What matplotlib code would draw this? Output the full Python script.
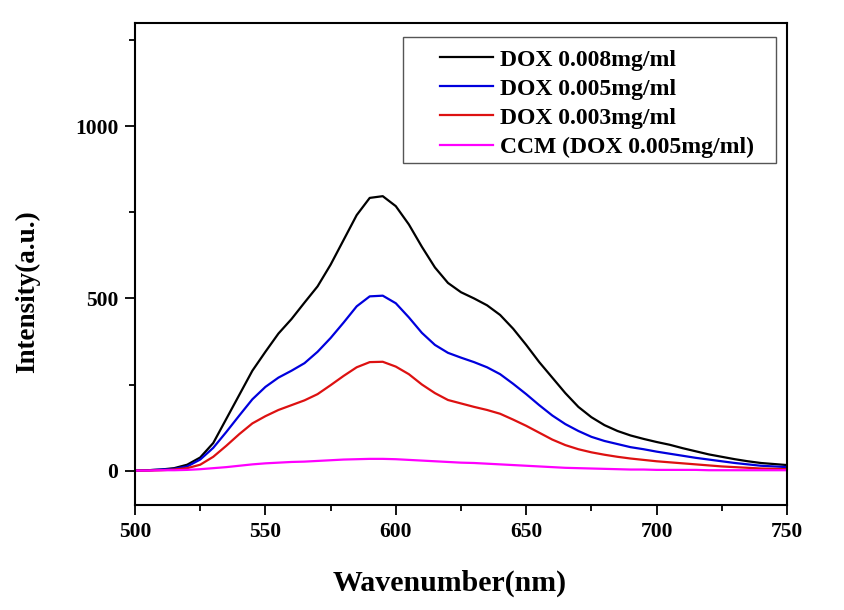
import numpy as np
import matplotlib
matplotlib.use("Agg")
import matplotlib.pyplot as plt
from matplotlib.patches import Rectangle

wavelength = np.arange(500, 755, 5)

dox_008 = [0, 1, 3, 7, 17, 38, 80, 150, 220, 290, 345, 398, 440, 488, 535, 598, 670, 742, 792, 797,
           768, 715, 650, 590, 545, 518, 500, 480, 452, 412, 365, 315, 270, 225, 185, 155, 132, 115,
           102, 92, 83, 75, 65, 56, 47, 40, 33, 27, 22, 19, 16]
dox_005 = [0, 1, 3, 5, 12, 32, 66, 112, 160, 207, 243, 270, 290, 312, 345, 385, 430, 477, 506, 508,
           486, 445, 400, 365, 342, 328, 315, 300, 280, 252, 222, 190, 160, 135, 115, 98, 86, 77,
           68, 62, 55, 49, 43, 37, 32, 27, 22, 18, 14, 12, 10]
dox_003 = [0, 0, 1, 3, 7, 17, 40, 72, 106, 137, 158, 176, 190, 204, 222, 248, 275, 300, 315, 316,
           302, 280, 250, 225, 205, 195, 185, 176, 165, 148, 130, 110, 90, 74, 62, 53, 46, 40,
           35, 31, 27, 24, 21, 18, 15, 12, 10, 8, 6, 5, 4]
ccm_005 = [0, 0, 1, 1, 2, 4, 7, 10, 14, 18, 21, 23, 25, 26, 28, 30, 32, 33, 34, 34,
           33, 31, 29, 27, 25, 23, 22, 20, 18, 16, 14, 12, 10, 8, 7, 6, 5, 4,
           3, 3, 2, 2, 2, 2, 1, 1, 1, 1, 1, 1, 1]

labels = ["DOX 0.008mg/ml", "DOX 0.005mg/ml", "DOX 0.003mg/ml", "CCM (DOX 0.005mg/ml)"]
colors = ["#000000", "#0000DD", "#DD1111", "#FF00FF"]

plt.rcParams['font.family'] = ['Liberation Serif', 'DejaVu Serif']
plt.rcParams['font.weight'] = 'bold'

W, H = 844, 610
fig = plt.figure(figsize=(W/100, H/100), dpi=100)
ax = fig.add_axes([135/W, 1-505/H, (787-135)/W, (505-23)/H])

for y, lab, c in zip([dox_008, dox_005, dox_003, ccm_005], labels, colors):
    ax.plot(wavelength, y, color=c, lw=1.6, label=lab, solid_joinstyle='round')

ax.set_xlim(500, 750)
ax.set_ylim(-100, 1300)
ax.set_xticks([500, 550, 600, 650, 700, 750])
ax.set_xticks([525, 575, 625, 675, 725], minor=True)
ax.set_yticks([0, 500, 1000])
ax.set_yticks([250, 750, 1250], minor=True)
ax.tick_params(which='both', direction='out', top=False, right=False, width=1.3)
ax.tick_params(which='major', length=7, labelsize=15.5, pad=5)
ax.tick_params(which='minor', length=4.3)
for lab in ax.get_xticklabels() + ax.get_yticklabels():
    lab.set_fontweight('bold')
for s in ax.spines.values():
    s.set_linewidth(1.5)

ax.set_xlabel("Wavenumber(nm)", fontsize=21.5, fontweight='bold')
ax.set_ylabel("Intensity(a.u.)", fontsize=19.5, fontweight='bold')
ax.xaxis.set_label_coords(0.483, -0.135)
ax.yaxis.set_label_coords(-0.146, 0.442)

leg = ax.legend(loc='upper left', bbox_to_anchor=(440/W, 1-49/H), bbox_transform=fig.transFigure,
                prop={'weight': 'bold', 'size': 17}, frameon=False,
                handlelength=2.25, handletextpad=0.3, labelspacing=0.32,
                borderpad=0, borderaxespad=0)
fig.patches.append(Rectangle((403/W, 1-163/H), (776-403)/W, (163-36.5)/H,
                             transform=fig.transFigure, fill=False, edgecolor='#555555', lw=1.0,
                             zorder=5))

fig.savefig("out.png", dpi=100, facecolor='white')
